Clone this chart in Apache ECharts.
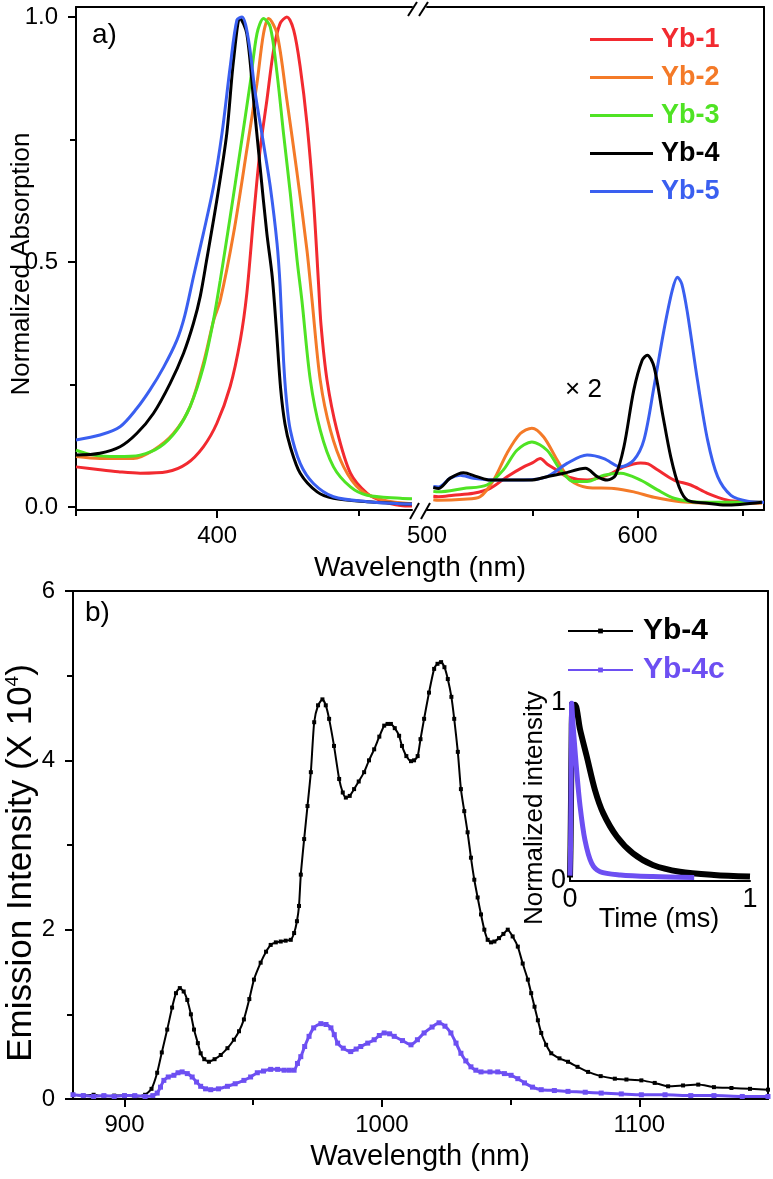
<!DOCTYPE html>
<html><head><meta charset="utf-8">
<script src="https://cdn.jsdelivr.net/npm/echarts@6/dist/echarts.min.js"></script>
<style>html,body{margin:0;padding:0;background:#fff}#c{width:773px;height:1179px}</style>
</head><body><div id="c"></div>
<script>
// ---------- panel a: absorption, left segment (350-469 nm) ----------
const yb1L = [[350,0.082],[358.5,0.076],[365,0.072],[372.7,0.069],[382.2,0.072],[389.3,0.089],[395.1,0.123],[399.9,0.171],[404.6,0.246],[408.2,0.341],[410.5,0.436],[412.9,0.592],[415.2,0.729],[417.6,0.830],[420,0.933],[422.3,0.987],[424.7,1.0],[427.1,0.973],[429.4,0.898],[431.8,0.783],[434.1,0.627],[435.9,0.456],[436.8,0.37],[438.9,0.259],[442.4,0.157],[447.2,0.069],[453.1,0.028],[459,0.011],[465,0.003],[469,0.002]];
const yb2L = [[350,0.103],[358.5,0.099],[370.3,0.099],[377.4,0.116],[384.5,0.150],[390.4,0.205],[395.1,0.293],[398.7,0.38],[401.1,0.422],[405.8,0.558],[410.5,0.729],[414.1,0.865],[416.4,0.966],[418.2,0.997],[421.2,0.966],[424.7,0.830],[428.3,0.681],[431.8,0.524],[433.6,0.422],[436.5,0.259],[440.1,0.157],[444.8,0.082],[450.7,0.035],[459,0.014],[469,0.007]];
const yb3L = [[350,0.116],[356.1,0.106],[364.4,0.103],[372.7,0.106],[379.8,0.123],[385.7,0.157],[390.4,0.205],[395.1,0.286],[398.7,0.382],[401.1,0.463],[404.6,0.592],[408.2,0.729],[411.7,0.865],[414.1,0.966],[416.4,0.997],[418.8,0.980],[421.2,0.885],[423.5,0.762],[425.9,0.640],[428.3,0.504],[430,0.422],[433,0.259],[436.5,0.157],[441.2,0.082],[447.2,0.041],[453.1,0.024],[464.9,0.018],[469,0.017]];
const yb4L = [[350,0.106],[358.5,0.110],[365.6,0.123],[371.5,0.150],[377.4,0.191],[383.3,0.252],[388.1,0.314],[391.6,0.375],[394,0.43],[396.3,0.505],[399.9,0.627],[403.4,0.762],[405.8,0.912],[408.2,0.997],[410.5,0.966],[412.9,0.830],[415.2,0.694],[417.6,0.558],[419.5,0.47],[421,0.36],[422.5,0.24],[424,0.17],[425.9,0.123],[429.4,0.069],[435.4,0.031],[441.2,0.018],[453.1,0.011],[464.9,0.007],[469,0.006]];
const yb5L = [[350,0.137],[358.5,0.147],[365.6,0.164],[371.5,0.201],[376.2,0.239],[381,0.285],[385.7,0.34],[388.5,0.39],[391.6,0.47],[395.1,0.558],[398.7,0.654],[401.7,0.762],[404.6,0.898],[407,0.994],[408.8,1.0],[411.1,0.953],[413.5,0.844],[416.4,0.742],[418.8,0.654],[421.2,0.538],[422.3,0.45],[423.5,0.30],[424.5,0.22],[425.9,0.157],[429.4,0.089],[434.1,0.048],[441.2,0.021],[453.1,0.011],[464.9,0.007],[469,0.006]];
// ---------- panel a: absorption, right segment (500-660 nm, x2) ----------
const yb1R = [[503,0.022],[505.4,0.021],[512.5,0.024],[522,0.028],[530,0.038],[538,0.062],[545.9,0.082],[550,0.09],[553.8,0.099],[557,0.088],[560.2,0.079],[566.5,0.062],[576,0.055],[585.6,0.065],[593.5,0.082],[601.4,0.090],[605,0.088],[609.4,0.076],[617.3,0.055],[625.2,0.045],[633.2,0.028],[642.7,0.014],[650,0.011],[659,0.010]];
const yb2R = [[503,0.015],[505.4,0.014],[517.3,0.016],[525.2,0.021],[531.6,0.055],[538,0.110],[544.3,0.150],[549.8,0.161],[555.4,0.143],[561.8,0.096],[568.1,0.055],[576,0.040],[588.7,0.038],[598.2,0.031],[607.8,0.020],[620.5,0.011],[635,0.008],[659,0.008]];
const yb3R = [[503,0.032],[505.4,0.031],[517.3,0.038],[528.4,0.045],[536.3,0.076],[542.7,0.116],[549.8,0.133],[557,0.116],[563.3,0.076],[569.7,0.052],[576,0.052],[584,0.065],[591.9,0.069],[601.4,0.055],[609.4,0.035],[617.3,0.018],[630,0.010],[659,0.010]];
const yb4R = [[503,0.04],[505.4,0.038],[511,0.059],[517.3,0.070],[523.7,0.062],[530,0.055],[541.1,0.055],[549,0.055],[557,0.062],[564.9,0.069],[575.2,0.079],[580.8,0.062],[585.6,0.055],[589.5,0.065],[593.5,0.123],[598.2,0.239],[602.2,0.300],[604.6,0.310],[607.8,0.286],[611.8,0.191],[615.7,0.103],[619.7,0.041],[623.7,0.014],[633.2,0.008],[641.6,0.004],[659,0.010]];
const yb5R = [[503,0.042],[505.4,0.041],[511,0.059],[515.7,0.065],[522,0.059],[533.2,0.055],[545.9,0.055],[557,0.062],[566.5,0.089],[576,0.106],[584,0.099],[591.9,0.082],[598.2,0.096],[603,0.137],[607.8,0.246],[612.5,0.361],[616.5,0.443],[618.9,0.469],[621,0.455],[623.7,0.395],[628.4,0.259],[633.2,0.137],[638,0.062],[644.3,0.024],[652.2,0.012],[660,0.010]];
// ---------- panel b: emission (x 10^4) ----------
const em4 = [[880,0.05],[884,0.04],[888,0.05],[892,0.03],[896,0.04],[900,0.04],[904,0.03],[908,0.05],[910.5,0.12],[912.7,0.31],[914.5,0.55],[916.6,0.82],[918.5,1.08],[920,1.25],[921.5,1.31],[923,1.27],[924.4,1.17],[925.8,1.0],[927,0.82],[928.5,0.66],[929.6,0.54],[931,0.47],[932.8,0.44],[935,0.47],[937.4,0.52],[940,0.6],[942.5,0.70],[944.5,0.80],[946.4,0.94],[948.5,1.18],[950.3,1.41],[952.9,1.61],[955,1.74],[956.8,1.82],[958.8,1.85],[960.7,1.86],[962.6,1.87],[964.6,1.88],[965.9,1.96],[967,2.1],[967.8,2.28],[968.5,2.65],[969.8,3.07],[971.1,3.46],[972.4,3.86],[973.7,4.45],[975.2,4.65],[976.9,4.72],[978.2,4.65],[979.5,4.49],[981.4,4.17],[983.4,3.78],[984.8,3.62],[986,3.56],[987.5,3.58],[989.2,3.66],[991,3.75],[993.1,3.86],[995,4.0],[997,4.13],[999,4.28],[1000.9,4.41],[1002.2,4.43],[1003.5,4.43],[1005,4.38],[1006.7,4.29],[1007.8,4.17],[1009.5,4.05],[1011.3,3.99],[1012.5,4.0],[1013.9,4.05],[1015,4.25],[1016.4,4.49],[1018.3,4.8],[1020.3,5.08],[1021.6,5.14],[1023,5.16],[1024.3,5.1],[1025.6,4.96],[1027,4.75],[1028.1,4.49],[1029.5,4.1],[1030.7,3.66],[1032,3.4],[1033.3,3.15],[1034.6,2.85],[1035.9,2.59],[1037.2,2.38],[1038.5,2.18],[1039.8,2.0],[1041.1,1.88],[1042.4,1.85],[1043.7,1.86],[1045.5,1.9],[1047.2,1.95],[1048.9,2.0],[1050.8,1.92],[1052.8,1.80],[1054.7,1.6],[1056.7,1.41],[1058,1.25],[1059.3,1.09],[1060.6,0.93],[1061.9,0.78],[1063.8,0.64],[1065.8,0.54],[1069,0.48],[1072.3,0.44],[1076,0.38],[1080.1,0.32],[1085,0.27],[1090.5,0.24],[1095,0.23],[1100.8,0.22],[1106,0.19],[1111.2,0.15],[1117,0.16],[1122.9,0.17],[1129,0.14],[1135.8,0.13],[1143,0.12],[1150,0.11]];
const em4c = [[880,0.05],[884,0.04],[888,0.03],[892,0.04],[896,0.03],[900,0.04],[904,0.04],[908,0.03],[911,0.04],[912.7,0.07],[914,0.14],[915.3,0.22],[917,0.26],[919.2,0.28],[920.8,0.31],[922.4,0.32],[924.4,0.30],[926.3,0.26],[928,0.2],[929.6,0.15],[931.5,0.12],[933.5,0.11],[936.5,0.12],[940,0.15],[943,0.18],[946.4,0.22],[949,0.26],[951.6,0.31],[954,0.33],[956.8,0.35],[959.5,0.35],[962,0.34],[964,0.34],[965.9,0.34],[967.2,0.42],[968.5,0.50],[970,0.62],[971.7,0.74],[973.5,0.84],[976.3,0.89],[978.3,0.88],[980.2,0.84],[981.5,0.76],[982.8,0.66],[985,0.6],[987.9,0.56],[990,0.59],[991.8,0.62],[994.5,0.66],[997,0.70],[999,0.75],[1000.9,0.78],[1003,0.77],[1004.8,0.74],[1008,0.69],[1011.3,0.64],[1013.8,0.70],[1016.4,0.78],[1019.5,0.85],[1022.2,0.90],[1024.5,0.86],[1026.8,0.78],[1028.8,0.66],[1030.7,0.54],[1032.6,0.45],[1034.6,0.38],[1036.5,0.34],[1038.5,0.32],[1042,0.32],[1045,0.32],[1047.6,0.30],[1050.2,0.28],[1052.8,0.24],[1055.4,0.19],[1058.5,0.14],[1061.9,0.11],[1067,0.10],[1072.3,0.09],[1079,0.08],[1085.2,0.07],[1093,0.06],[1100.8,0.05],[1110,0.05],[1120,0.04],[1129,0.04],[1140,0.03],[1150,0.03]];
// ---------- inset: decay (time in ms, normalized) ----------
const decay4 = [[0,0.02],[0.003,0.2],[0.006,0.5],[0.009,0.8],[0.013,0.97],[0.028,0.99],[0.056,0.85],[0.093,0.70],[0.139,0.51],[0.185,0.38],[0.26,0.25],[0.35,0.155],[0.46,0.09],[0.61,0.052],[0.8,0.034],[1.0,0.025]];
const decay4c = [[0,0.03],[0.002,0.12],[0.004,0.3],[0.006,0.55],[0.008,0.85],[0.009,1.0],[0.019,0.85],[0.037,0.62],[0.056,0.42],[0.083,0.23],[0.12,0.10],[0.167,0.052],[0.28,0.034],[0.46,0.025],[0.69,0.02]];
// ---------- tick values ----------
const absTicksY = [0, 0.5, 1];
const absMinorY = [0.25, 0.75];
const absLeftMajorX = [400];
const absLeftMinorX = [350, 450];
const absRightLabelX = [500, 600];
const absRightMajorX = [600];
const absRightMinorX = [550, 650];
const emMajorX = [900, 1000, 1100];
const emMinorX = [950, 1050];
const emTicksY = [0, 2, 4, 6];
const emMinorY = [1, 3, 5];
const insetTicks = [0, 1];

const FONT = 'Liberation Sans, Arial, Helvetica, sans-serif';
const C = {r:'#f22a30', o:'#f47a28', g:'#4fe324', k:'#000000', b:'#3a5ff0', p:'#6d4ff2'};
const lineAx = {show:true, onZero:false, lineStyle:{color:'#000', width:2}};
const tick = (vals, len) => ({show:true, customValues:vals, length:len, lineStyle:{color:'#000', width:2}});
const plain = v => String(v);
const lab = (vals, size, margin, fmt) => ({show:true, customValues:vals, fontSize:size, color:'#000', fontFamily:FONT, margin:margin, formatter:fmt || plain});
const noLab = {show:false};
const noTick = {show:false};
const noSplit = {show:false};

function ax(gridIndex, position, min, max, opts) {
  return Object.assign({gridIndex, position, type:'value', min, max, splitLine:noSplit,
    axisLine:lineAx, axisTick:noTick, axisLabel:noLab}, opts);
}
const hidden = {axisLine:{show:false, onZero:false}};

const xAxis = [
  ax(0,'bottom',350,469,{axisTick:tick(absLeftMajorX,8), axisLabel:lab(absLeftMajorX,24,14)}),
  ax(0,'bottom',350,469,Object.assign({axisTick:tick(absLeftMinorX,6)}, hidden)),
  ax(0,'top',350,469,{}),
  ax(1,'bottom',500,660,{axisTick:tick(absRightMajorX,8), axisLabel:lab(absRightLabelX,24,14)}),
  ax(1,'bottom',500,660,Object.assign({axisTick:tick(absRightMinorX,6)}, hidden)),
  ax(1,'top',500,660,{}),
  ax(2,'bottom',880,1150,{axisTick:tick(emMajorX,8), axisLabel:lab(emMajorX,24,14)}),
  ax(2,'bottom',880,1150,Object.assign({axisTick:tick(emMinorX,6)}, hidden)),
  ax(2,'top',880,1150,{}),
  ax(3,'bottom',0,1,{axisLabel:lab(insetTicks,27,5)})
];
const yAxis = [
  ax(0,'left',-0.006,1.0204,{axisTick:tick(absTicksY,8), axisLabel:lab(absTicksY,24,18,v=>v.toFixed(1))}),
  ax(0,'left',-0.006,1.0204,Object.assign({axisTick:tick(absMinorY,6)}, hidden)),
  ax(1,'right',-0.006,1.0204,{}),
  ax(2,'left',0,6,{axisTick:tick(emTicksY,8), axisLabel:lab(emTicksY,24,18)}),
  ax(2,'left',0,6,Object.assign({axisTick:tick(emMinorY,6)}, hidden)),
  ax(2,'right',0,6,{}),
  ax(3,'left',0,1,{axisLabel:lab(insetTicks,27,4)})
];

function absSeries(name, data, color, xi, yi) {
  return {type:'line', name, data, xAxisIndex:xi, yAxisIndex:yi, showSymbol:false, symbol:'none',
    smooth:0.3, lineStyle:{color, width:3}, itemStyle:{color}, silent:true};
}
const series = [
  absSeries('Yb-1', yb1L, C.r, 0, 0),
  absSeries('Yb-2', yb2L, C.o, 0, 0),
  absSeries('Yb-3', yb3L, C.g, 0, 0),
  absSeries('Yb-4', yb4L, C.k, 0, 0),
  absSeries('Yb-5', yb5L, C.b, 0, 0),
  absSeries('Yb-1', yb1R, C.r, 3, 2),
  absSeries('Yb-2', yb2R, C.o, 3, 2),
  absSeries('Yb-3', yb3R, C.g, 3, 2),
  absSeries('Yb-5', yb5R, C.b, 3, 2),
  absSeries('Yb-4', yb4R, C.k, 3, 2),
  {type:'line', name:'Yb-4 emission', data:em4, xAxisIndex:6, yAxisIndex:3, symbol:'rect', symbolSize:4,
    showSymbol:true, smooth:0.2, lineStyle:{color:C.k, width:2}, itemStyle:{color:C.k}, silent:true},
  {type:'line', name:'Yb-4c emission', data:em4c, xAxisIndex:6, yAxisIndex:3, symbol:'rect', symbolSize:5,
    showSymbol:true, smooth:0.2, lineStyle:{color:C.p, width:3}, itemStyle:{color:C.p}, silent:true},
  {type:'line', name:'Yb-4 decay', data:decay4, xAxisIndex:9, yAxisIndex:6, showSymbol:false, symbol:'none',
    smooth:0.3, lineStyle:{color:C.k, width:6}, silent:true},
  {type:'line', name:'Yb-4c decay', data:decay4c, xAxisIndex:9, yAxisIndex:6, showSymbol:false, symbol:'none',
    smooth:0.3, lineStyle:{color:C.p, width:5}, silent:true}
];

const txt = (text, x, y, size, extra) => Object.assign({type:'text', x, y, silent:true,
  style:{text, fontSize:size, fontFamily:FONT, fill:'#000', align:'center', verticalAlign:'middle'}}, extra||{});
const leftTxt = (text, x, y, size) => ({type:'text', x, y, silent:true,
  style:{text, fontSize:size, fontFamily:FONT, fill:'#000', align:'left', verticalAlign:'middle'}});
const seg = (x1,y1,x2,y2) => ({type:'line', silent:true, shape:{x1,y1,x2,y2}, style:{stroke:'#000', lineWidth:2}});

const option = {
  animation:false,
  backgroundColor:'#fff',
  grid:[
    {left:76, top:7, width:336, height:503, outerBoundsMode:'none'},
    {left:427, top:7, width:337, height:503, outerBoundsMode:'none'},
    {left:73, top:591, width:695, height:508, outerBoundsMode:'none'},
    {left:570, top:703, width:180, height:178, outerBoundsMode:'none'}
  ],
  xAxis, yAxis, series,
  legend:[
    {orient:'vertical', left:590, top:26, padding:0, icon:'rect', itemWidth:63, itemHeight:3, itemGap:11, selectedMode:false,
      textStyle:{fontSize:27, fontWeight:'bold', fontFamily:FONT, lineHeight:27, padding:[0,0,0,3]},
      data:[{name:'Yb-1', textStyle:{color:C.r}}, {name:'Yb-2', textStyle:{color:C.o}},
            {name:'Yb-3', textStyle:{color:C.g}}, {name:'Yb-4', textStyle:{color:C.k}},
            {name:'Yb-5', textStyle:{color:C.b}}]},
    {orient:'vertical', left:567, top:616, padding:0, itemWidth:65, itemHeight:6, itemGap:9, selectedMode:false,
      formatter:n => n.split(' ')[0],
      textStyle:{fontSize:30, fontWeight:'bold', fontFamily:FONT, lineHeight:30, padding:[0,0,0,5]},
      data:[{name:'Yb-4 emission', textStyle:{color:C.k}}, {name:'Yb-4c emission', textStyle:{color:C.p}}]}
  ],
  graphic:[
    leftTxt('a)', 92, 35, 28),
    leftTxt('b)', 85, 613, 28),
    leftTxt('× 2', 565, 390, 26),
    txt('Wavelength (nm)', 420, 568, 28),
    txt('Wavelength (nm)', 420, 1157, 29),
    txt('Normalized Absorption', 22, 264, 26, {rotation:Math.PI/2}),
    {type:'text', x:21, y:863, rotation:Math.PI/2, silent:true,
      style:{text:'Emission Intensity (X 10{sup|4})', fontSize:35, fontFamily:FONT, fill:'#000',
        align:'center', verticalAlign:'middle',
        rich:{sup:{fontSize:19, fontFamily:FONT, fill:'#000', verticalAlign:'top'}}}},
    txt('Normalized intensity', 535, 808, 26, {rotation:Math.PI/2}),
    txt('Time (ms)', 659, 920, 27),
    seg(408,16,417,2), seg(419,16,428,2),
    seg(410,519,419,503), seg(421,519,430,503)
  ]
};
echarts.init(document.getElementById('c'), null, {renderer:'canvas'}).setOption(option);
</script>
</body></html>
